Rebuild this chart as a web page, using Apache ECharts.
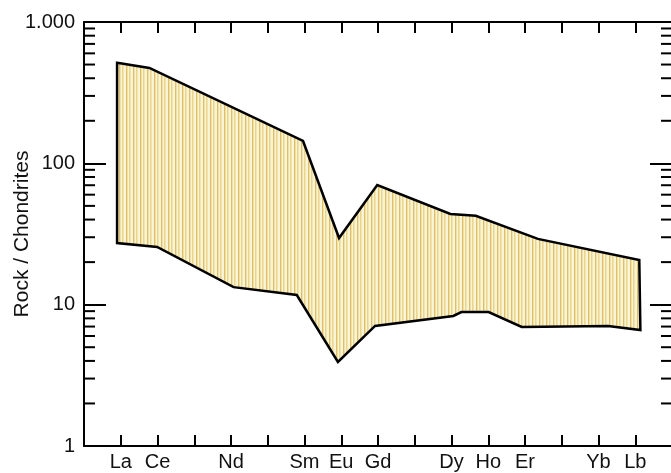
<!DOCTYPE html>
<html>
<head>
<meta charset="utf-8">
<script src="https://cdn.jsdelivr.net/npm/echarts@6/dist/echarts.min.js"></script>
<style>
  html, body { margin: 0; padding: 0; background: #ffffff; }
  #chart { width: 671px; height: 473px; }
</style>
</head>
<body>
<div id="chart"></div>
<script>
// Element positions on the x axis (1..15) and their tick labels
const elements = ['La', 'Ce', 'Pr', 'Nd', 'Pm', 'Sm', 'Eu', 'Gd', 'Tb', 'Dy', 'Ho', 'Er', 'Tm', 'Yb', 'Lu'];
const tickLabels = ['La', 'Ce', '', 'Nd', '', 'Sm', 'Eu', 'Gd', '', 'Dy', 'Ho', 'Er', '', 'Yb', 'Lb'];

// Upper envelope (x in element units, y = rock / chondrites)
const upperX = [0.90, 1.78, 5.96, 6.94, 7.98, 9.97, 10.66, 12.35, 15.11];
const upperY = [514, 473, 144, 29.6, 70.3, 43.8, 42.5, 29.2, 20.7];

// Lower envelope
const lowerX = [0.90, 1.99, 4.07, 5.79, 6.91, 7.92, 10.05, 10.27, 11.01, 11.91, 14.26, 15.14];
const lowerY = [27.3, 25.6, 13.3, 11.7, 3.93, 7.07, 8.32, 8.87, 8.87, 6.95, 7.07, 6.62];

// Y axis labels and minor tick values
const yTickLabels = { 1: '1', 10: '10', 100: '100', 1000: '1.000' };
const minorTickValues = [2, 3, 4, 5, 6, 7, 8, 9, 20, 30, 40, 50, 60, 70, 80, 90, 200, 300, 400, 500, 600, 700, 800, 900];

// polygon: upper left->right, then lower right->left
const polygonData = [];
upperX.forEach((x, i) => polygonData.push([x, upperY[i]]));
for (let i = lowerX.length - 1; i >= 0; i--) polygonData.push([lowerX[i], lowerY[i]]);

// stripe pattern
const pat = document.createElement('canvas');
pat.width = 7; pat.height = 4;
const pc = pat.getContext('2d');
pc.fillStyle = '#f8f5d6'; pc.fillRect(0, 0, 7, 4);
pc.fillStyle = '#e2bd68'; pc.fillRect(0, 0, 1, 4);
pc.fillStyle = '#ebd48c'; pc.fillRect(3, 0, 1, 4);
pc.fillStyle = '#f1e4ae'; pc.fillRect(4, 0, 1, 4);
pc.fillStyle = '#efe0a6'; pc.fillRect(1, 0, 1, 4);

const FONT = 'Liberation Sans, Arial, Helvetica, sans-serif';
const FS = 20;
const chart = echarts.init(document.getElementById('chart'), null, { renderer: 'canvas' });

function xAxisOpt(pos, showLabel) {
  return {
    type: 'value', min: 0, max: 16, interval: 1, position: pos,
    splitLine: { show: false },
    axisLine: { show: true, onZero: false, lineStyle: { color: '#000', width: 2 } },
    axisTick: { show: true, inside: true, length: 11, lineStyle: { color: '#000', width: 2 } },
    axisLabel: showLabel ? {
      show: true, color: '#111', fontSize: FS, fontFamily: FONT, margin: 6,
      formatter: function (v) { return (v >= 1 && v <= 15) ? tickLabels[v - 1] : ''; }
    } : { show: false }
  };
}
function yAxisOpt(pos, showLabel) {
  const o = {
    type: 'log', min: 1, max: 1000, logBase: 10, position: pos,
    splitLine: { show: false },
    axisLine: { show: true, onZero: false, lineStyle: { color: '#000', width: 2 } },
    axisTick: { show: true, inside: true, length: 22, lineStyle: { color: '#000', width: 2 } },
    axisLabel: showLabel ? {
      show: true, color: '#111', fontSize: FS, fontFamily: FONT, margin: 9,
      formatter: function (v) { return yTickLabels[Math.round(v)] || ''; }
    } : { show: false }
  };
  if (showLabel) {
    o.name = 'Rock / Chondrites';
    o.nameLocation = 'middle';
    o.nameGap = 51;
    o.nameMoveOverlap = false;
    o.nameTextStyle = { color: '#111', fontSize: 21, fontFamily: FONT };
  }
  return o;
}

chart.setOption({
  animation: false,
  backgroundColor: '#ffffff',
  grid: { left: 84, top: 22, right: -1, bottom: 27, containLabel: false, outerBoundsMode: 'none' },
  xAxis: [xAxisOpt('bottom', true), xAxisOpt('top', false)],
  yAxis: [yAxisOpt('left', true), yAxisOpt('right', false)],
  series: [
    {
      type: 'custom', xAxisIndex: 0, yAxisIndex: 0, clip: false,
      data: polygonData,
      renderItem: function (params, api) {
        if (params.dataIndex !== 0) return null;
        const pts = polygonData.map(p => api.coord(p));
        return {
          type: 'polygon',
          shape: { points: pts },
          style: { fill: { image: pat, repeat: 'repeat' }, stroke: '#000', lineWidth: 2.5, lineJoin: 'miter' }
        };
      }
    },
    {
      type: 'custom', xAxisIndex: 0, yAxisIndex: 0, clip: false,
      data: minorTickValues,
      renderItem: function (params, api) {
        const v = minorTickValues[params.dataIndex];
        const l = api.coord([0, v]);
        const r = api.coord([16, v]);
        return {
          type: 'group',
          children: [
            { type: 'line', shape: { x1: l[0], y1: l[1], x2: l[0] + 11, y2: l[1] }, style: { stroke: '#000', lineWidth: 2 } },
            { type: 'line', shape: { x1: r[0], y1: r[1], x2: r[0] - 11, y2: r[1] }, style: { stroke: '#000', lineWidth: 2 } }
          ]
        };
      }
    }
  ]
});
</script>
</body>
</html>
